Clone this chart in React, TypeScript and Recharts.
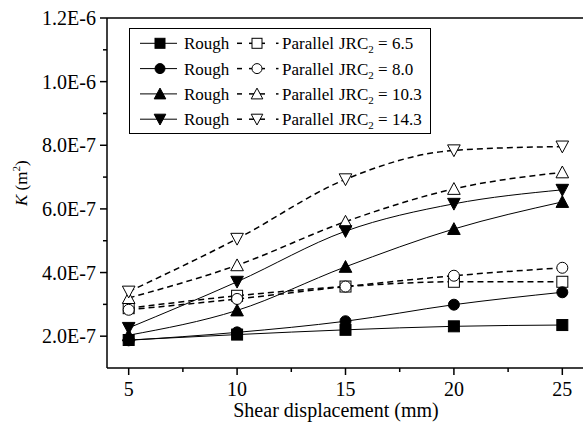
import React from "react";
import { LineChart, Line, XAxis, YAxis, ReferenceLine } from "recharts";

const shear = [5, 10, 15, 20, 25];

// permeability K (m^2)
const rough65 = [1.88e-7, 2.05e-7, 2.2e-7, 2.31e-7, 2.35e-7];
const parallel65 = [2.88e-7, 3.27e-7, 3.56e-7, 3.71e-7, 3.71e-7];
const rough80 = [1.87e-7, 2.12e-7, 2.47e-7, 2.99e-7, 3.38e-7];
const parallel80 = [2.83e-7, 3.17e-7, 3.56e-7, 3.9e-7, 4.15e-7];
const rough103 = [2.03e-7, 2.81e-7, 4.18e-7, 5.37e-7, 6.22e-7];
const parallel103 = [3.2e-7, 4.23e-7, 5.6e-7, 6.63e-7, 7.15e-7];
const rough143 = [2.26e-7, 3.71e-7, 5.3e-7, 6.16e-7, 6.6e-7];
const parallel143 = [3.4e-7, 5.06e-7, 6.93e-7, 7.84e-7, 7.96e-7];

const jrcLabels = ["6.5", "8.0", "10.3", "14.3"];

const xTicks = [5, 7.5, 10, 12.5, 15, 17.5, 20, 22.5, 25];
const yTicks = [
  2e-7, 3e-7, 4e-7, 5e-7, 6e-7, 7e-7, 8e-7, 9e-7, 1e-6, 1.1e-6, 1.2e-6,
];

const FONT = "'Liberation Serif', 'Times New Roman', serif";
const txt = { fontFamily: FONT };

type Shape = "square" | "circle" | "up" | "down";

const groups: { key: string; shape: Shape; rough: number[]; parallel: number[] }[] = [
  { key: "g65", shape: "square", rough: rough65, parallel: parallel65 },
  { key: "g80", shape: "circle", rough: rough80, parallel: parallel80 },
  { key: "g103", shape: "up", rough: rough103, parallel: parallel103 },
  { key: "g143", shape: "down", rough: rough143, parallel: parallel143 },
];

const data = shear.map((s, i) => {
  const row: Record<string, number> = { shear: s };
  groups.forEach((g) => {
    row[g.key + "r"] = g.rough[i];
    row[g.key + "p"] = g.parallel[i];
  });
  return row;
});

function Marker({
  cx,
  cy,
  shape,
  filled,
  size = 11,
}: {
  cx: number;
  cy: number;
  shape: Shape;
  filled: boolean;
  size?: number;
}) {
  const fill = filled ? "#000" : "#fff";
  const h = size / 2;
  if (shape === "square")
    return <rect x={cx - h} y={cy - h} width={size} height={size} fill={fill} stroke="#000" strokeWidth={1} />;
  if (shape === "circle")
    return <circle cx={cx} cy={cy} r={h} fill={fill} stroke="#000" strokeWidth={1} />;
  const t = h + 0.8;
  const pts =
    shape === "up"
      ? `${cx},${cy - t} ${cx - t},${cy + h} ${cx + t},${cy + h}`
      : `${cx},${cy + t} ${cx - t},${cy - h} ${cx + t},${cy - h}`;
  return <polygon points={pts} fill={fill} stroke="#000" strokeWidth={1} />;
}

const makeDot = (shape: Shape, filled: boolean) => (p: any) => (
  <Marker key={`${shape}-${filled}-${p.index}`} cx={p.cx} cy={p.cy} shape={shape} filled={filled} />
);

function XTick({ x, y, payload }: any) {
  const v = payload.value as number;
  const major = v % 5 === 0;
  return (
    <g>
      <line x1={x} x2={x} y1={y} y2={y + (major ? 7 : 4)} stroke="#000" strokeWidth={1.5} />
      {major && (
        <text x={x} y={y + 28} textAnchor="middle" style={txt} fontSize={20} fill="#000">
          {v}
        </text>
      )}
    </g>
  );
}

function YTick({ x, y, payload }: any) {
  const v = payload.value as number;
  const major = Math.round(v * 1e7) % 2 === 0;
  return (
    <g>
      <line x1={x - (major ? 7 : 4)} x2={x} y1={y} y2={y} stroke="#000" strokeWidth={1.5} />
      {major && (
        <text x={x - 11} y={y + 7} textAnchor="end" style={txt} fontSize={20} fill="#000">
          {v.toExponential(1).toUpperCase()}
        </text>
      )}
    </g>
  );
}

function LegendBox() {
  const rowY = [43.3, 68.6, 93.9, 119.2];
  return (
    <g style={txt} fontSize={17} fill="#000">
      <rect x={129.5} y={28.5} width={301} height={105} fill="#fff" stroke="#000" strokeWidth={1} />
      {groups.map((g, i) => {
        const cy = rowY[i];
        return (
          <g key={g.key}>
            <line x1={140} x2={177} y1={cy} y2={cy} stroke="#000" strokeWidth={1} />
            <Marker cx={160} cy={cy} shape={g.shape} filled size={10} />
            <text x={184} y={cy + 6} style={txt}>Rough</text>
            <line x1={237} x2={242} y1={cy} y2={cy} stroke="#000" strokeWidth={1.5} />
            <line x1={249} x2={265} y1={cy} y2={cy} stroke="#000" strokeWidth={1.5} />
            <line x1={276} x2={278.5} y1={cy} y2={cy} stroke="#000" strokeWidth={1.5} />
            <Marker cx={257} cy={cy} shape={g.shape} filled={false} size={10} />
            <text x={282} y={cy + 6} style={txt}>Parallel</text>
            <text x={339} y={cy + 6} style={txt}>
              JRC
              <tspan dy={4} fontSize={11}>2</tspan>
              <tspan dy={-4}>{` = ${jrcLabels[i]}`}</tspan>
            </text>
          </g>
        );
      })}
    </g>
  );
}

export default function App() {
  return (
    <div
      style={{
        position: "absolute",
        left: 0,
        top: 0,
        width: 583,
        height: 430,
        background: "#fff",
        fontFamily: FONT,
      }}
    >
      <LineChart
        width={583}
        height={430}
        data={data}
        margin={{ top: 18, right: -1, bottom: 0, left: 0 }}
        style={{ fontFamily: FONT }}
      >
        <XAxis
          dataKey="shear"
          type="number"
          domain={[4, 26]}
          ticks={xTicks}
          interval={0}
          height={62}
          tickSize={0}
          tickMargin={0}
          tickLine={false}
          tick={<XTick />}
          axisLine={{ stroke: "#000", strokeWidth: 1.5 }}
          allowDataOverflow
        />
        <YAxis
          type="number"
          domain={[1e-7, 1.2e-6]}
          ticks={yTicks}
          interval={0}
          width={107}
          tickSize={0}
          tickMargin={0}
          tickLine={false}
          tick={<YTick />}
          axisLine={{ stroke: "#000", strokeWidth: 1.5 }}
          allowDataOverflow
        />
        <ReferenceLine y={1.2e-6} stroke="#000" strokeWidth={1.5} />
        {groups.map((g) => (
          <Line
            key={g.key + "p"}
            dataKey={g.key + "p"}
            type="monotone"
            stroke="#000"
            strokeWidth={1.5}
            strokeDasharray="6 4"
            dot={makeDot(g.shape, false)}
            activeDot={false}
            isAnimationActive={false}
          />
        ))}
        {groups.map((g) => (
          <Line
            key={g.key + "r"}
            dataKey={g.key + "r"}
            type="monotone"
            stroke="#000"
            strokeWidth={1}
            dot={makeDot(g.shape, true)}
            activeDot={false}
            isAnimationActive={false}
          />
        ))}
      </LineChart>
      <svg
        width={583}
        height={430}
        style={{ position: "absolute", left: 0, top: 0, pointerEvents: "none", fontFamily: FONT }}
      >
        <LegendBox />
        <text x={336} y={417} textAnchor="middle" style={txt} fontSize={20} fill="#000">
          Shear displacement (mm)
        </text>
        <text
          transform="translate(27 206) rotate(-90)"
          textAnchor="start"
          style={txt}
          fontSize={17}
          fill="#000"
        >
          <tspan fontStyle="italic">K</tspan>
          {" (m"}
          <tspan dy={-7} fontSize={11}>2</tspan>
          <tspan dy={7}>)</tspan>
        </text>
      </svg>
    </div>
  );
}
